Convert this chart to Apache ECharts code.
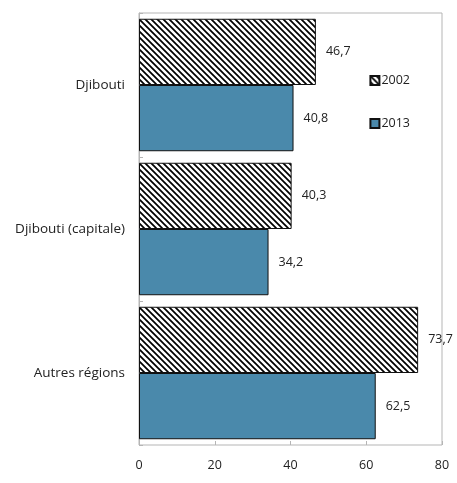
<!DOCTYPE html>
<html>
<head>
<meta charset="utf-8">
<script src="https://cdn.jsdelivr.net/npm/echarts@6/dist/echarts.min.js"></script>
<style>
  html, body { margin: 0; padding: 0; background: #fff; }
  #chart { width: 457px; height: 483px; }
</style>
</head>
<body>
<div id="chart"></div>
<script>
var categories = ['Djibouti', 'Djibouti (capitale)', 'Autres régions'];
var values2002 = [46.7, 40.3, 73.7];
var values2013 = [40.8, 34.2, 62.5];
var xTicks = [0, 20, 40, 60, 80];

// hachures pour 2002
function makeHatch() {
  var c = document.createElement('canvas');
  c.width = 6; c.height = 6;
  var ctx = c.getContext('2d');
  ctx.fillStyle = '#fff';
  ctx.fillRect(0, 0, 6, 6);
  ctx.strokeStyle = '#000';
  ctx.lineWidth = 1.7;
  ctx.beginPath();
  ctx.moveTo(-1, -1); ctx.lineTo(7, 7);
  ctx.moveTo(-4, 2); ctx.lineTo(4, 10);
  ctx.moveTo(2, -4); ctx.lineTo(10, 4);
  ctx.stroke();
  return c;
}

var fmt = function (p) { return String(p.value).replace('.', ','); };
var font = '"Open Sans", "Noto Sans", sans-serif';

var myChart = echarts.init(document.getElementById('chart'));
var option = {
  animation: false,
  textStyle: { fontFamily: font },
  grid: {
    left: 139, right: 15, top: 13, bottom: 38,
    show: true, borderColor: '#b5b5b5', borderWidth: 1
  },
  legend: {
    orient: 'vertical',
    right: 42, top: 69,
    itemGap: 30,
    itemWidth: 9, itemHeight: 9,
    icon: 'rect',
    textStyle: { fontSize: 12.5, color: '#222', padding: [0, 0, 0, -3] },
    data: ['2002', '2013']
  },
  xAxis: {
    type: 'value',
    min: 0, max: 80, interval: 20,
    splitLine: { show: false },
    axisLine: { show: false },
    axisTick: { show: true, inside: true, length: 4, lineStyle: { color: '#b5b5b5' } },
    axisLabel: {
      margin: 14, fontSize: 12.5, color: '#222',
      formatter: function (v) { return xTicks.indexOf(v) >= 0 ? String(v) : ''; }
    }
  },
  yAxis: {
    type: 'category',
    inverse: true,
    data: categories,
    axisLine: { show: true, lineStyle: { color: '#b5b5b5' } },
    axisTick: { show: true, inside: true, length: 4, lineStyle: { color: '#b5b5b5' } },
    axisLabel: { margin: 14, fontSize: 13.5, color: '#222' }
  },
  series: [
    {
      name: '2002',
      type: 'bar',
      data: values2002,
      barGap: 0,
      barCategoryGap: '8%',
      itemStyle: {
        color: { image: makeHatch(), repeat: 'repeat' },
        borderColor: '#111', borderWidth: 1
      },
      label: { show: true, position: 'right', distance: 10, fontSize: 12.5, color: '#222', formatter: fmt }
    },
    {
      name: '2013',
      type: 'bar',
      data: values2013,
      barGap: 0,
      barCategoryGap: '8%',
      itemStyle: { color: '#4a89ab', borderColor: '#111', borderWidth: 1 },
      label: { show: true, position: 'right', distance: 10, fontSize: 12.5, color: '#222', formatter: fmt }
    }
  ]
};
myChart.setOption(option);
</script>
</body>
</html>
